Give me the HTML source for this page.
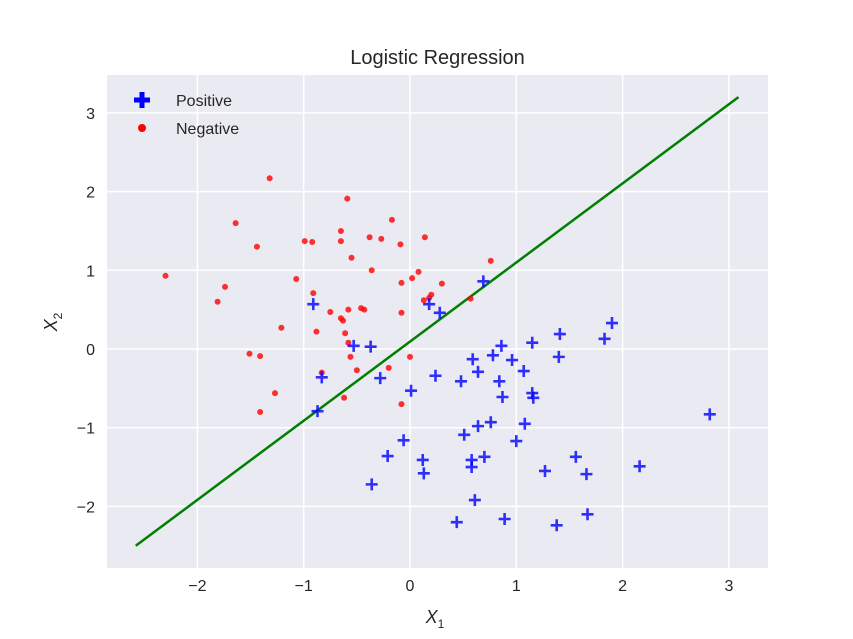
<!DOCTYPE html>
<html><head><meta charset="utf-8"><style>
html,body{margin:0;padding:0;background:#fff;}
svg{display:block;font-family:"Liberation Sans","DejaVu Sans",sans-serif;}
</style></head><body>
<svg id="chart" width="853" height="639" xmlns="http://www.w3.org/2000/svg"></svg>
<script>
const posX=[-0.91,0.69,0.28,-0.53,-0.37,-0.83,-0.28,-0.87,0.59,0.86,0.78,0.96,1.07,1.15,1.41,1.40,1.90,1.83,0.64,0.48,0.24,0.84,0.87,0.01,1.08,1.15,1.16,0.76,0.64,0.51,1.00,-0.06,-0.21,0.12,0.13,0.58,0.70,0.58,1.27,1.56,1.66,2.16,2.82,-0.36,0.61,0.44,0.89,1.38,1.67,0.18];
const posY=[0.57,0.86,0.46,0.04,0.03,-0.36,-0.37,-0.79,-0.13,0.04,-0.08,-0.14,-0.28,0.08,0.19,-0.10,0.33,0.13,-0.29,-0.41,-0.34,-0.41,-0.61,-0.53,-0.95,-0.56,-0.62,-0.93,-0.98,-1.09,-1.17,-1.16,-1.36,-1.41,-1.58,-1.41,-1.37,-1.50,-1.55,-1.37,-1.59,-1.49,-0.83,-1.72,-1.92,-2.20,-2.16,-2.24,-2.10,0.57];
const negX=[-2.30,-1.81,-1.74,-1.64,-1.44,-1.32,-1.21,-1.51,-1.41,-1.41,-1.27,-1.07,-0.99,-0.92,-0.91,-0.88,-0.83,-0.75,-0.65,-0.65,-0.59,-0.65,-0.63,-0.61,-0.58,-0.58,-0.56,-0.55,-0.50,-0.46,-0.43,-0.38,-0.36,-0.27,-0.20,-0.17,-0.09,-0.08,-0.08,-0.08,0.00,0.02,0.08,0.13,0.14,0.18,0.20,0.30,0.57,0.76,-0.62];
const negY=[0.93,0.60,0.79,1.60,1.30,2.17,0.27,-0.06,-0.09,-0.80,-0.56,0.89,1.37,1.36,0.71,0.22,-0.30,0.47,1.37,1.50,1.91,0.39,0.36,0.20,0.50,0.08,-0.10,1.16,-0.27,0.52,0.50,1.42,1.00,1.40,-0.24,1.64,1.33,0.84,0.46,-0.70,-0.10,0.90,0.98,0.62,1.42,0.65,0.69,0.83,0.64,1.12,-0.62];
const lineX=[-2.58,3.09];
const lineY=[-2.50,3.20];
const xTicks=[-2,-1,0,1,2,3];
const yTicks=[-2,-1,0,1,2,3];

const svg=document.getElementById('chart');
const NS='http://www.w3.org/2000/svg';
const L=107,R=768,T=75,B=568;
const sx=v=>410+v*106.3;
const sy=v=>349-v*78.7;
function mk(tag,attrs,parent){const e=document.createElementNS(NS,tag);for(const k in attrs)e.setAttribute(k,attrs[k]);(parent||svg).appendChild(e);return e;}

const bg=mk('rect',{x:L,y:T,width:R-L,height:B-T,fill:'#eaeaf2'});



xTicks.forEach(t=>{
  const g=mk('line',{x1:sx(t),x2:sx(t),y1:T,y2:B,stroke:'#fff','stroke-width':1.5});
  
  
  const tx=mk('text',{x:sx(t),y:B+23,'text-anchor':'middle','font-size':16,fill:'#262626'});
  tx.textContent=(t<0?'\u2212'+(-t):''+t);
  
  
});
yTicks.forEach(t=>{
  const g=mk('line',{x1:L,x2:R,y1:sy(t),y2:sy(t),stroke:'#fff','stroke-width':1.5});
  
  
  const tx=mk('text',{x:L-12,y:sy(t)+6,'text-anchor':'end','font-size':16,fill:'#262626'});
  tx.textContent=(t<0?'\u2212'+(-t):''+t);
  
  
});

const bl=mk('line',{x1:sx(lineX[0]),y1:sy(lineY[0]),x2:sx(lineX[1]),y2:sy(lineY[1]),stroke:'#008000','stroke-width':2.5});



negX.forEach((v,i)=>{
  const c=mk('circle',{cx:sx(v),cy:sy(negY[i]),r:3,fill:'#ff0000','fill-opacity':0.8});
  
  
});
function plus(x,y,s,w,parent){
  return mk('path',{d:`M${x-s} ${y}H${x+s}M${x} ${y-s}V${y+s}`,stroke:'#0000ff','stroke-opacity':0.8,'stroke-width':w,fill:'none'},parent);
}
posX.forEach((v,i)=>{
  const p=plus(sx(v),sy(posY[i]),6,2.6);
  
  
});

const leg=mk('g',{});


const lp=plus(142,100,8,5,leg);lp.setAttribute('stroke-opacity',1);


const lt1=mk('text',{x:176,y:106,'font-size':16,fill:'#262626'},leg);lt1.textContent='Positive';


const lc=mk('circle',{cx:142,cy:128,r:4,fill:'#ff0000'},leg);


const lt2=mk('text',{x:176,y:134,'font-size':16,fill:'#262626'},leg);lt2.textContent='Negative';



const title=mk('text',{x:437.5,y:64,'text-anchor':'middle','font-size':20,fill:'#262626'});
title.textContent='Logistic Regression';



const xl=mk('text',{x:435,y:623,'text-anchor':'middle','font-size':18,fill:'#262626','font-style':'italic'});
xl.innerHTML='X<tspan font-size="12" dy="5" font-style="normal">1</tspan>';


const yl=mk('text',{x:0,y:0,'text-anchor':'middle','font-size':18,fill:'#262626','font-style':'italic',transform:'translate(57,322) rotate(-90)'});
yl.innerHTML='X<tspan font-size="12" dy="5" font-style="normal">2</tspan>';


</script>
</body></html>
